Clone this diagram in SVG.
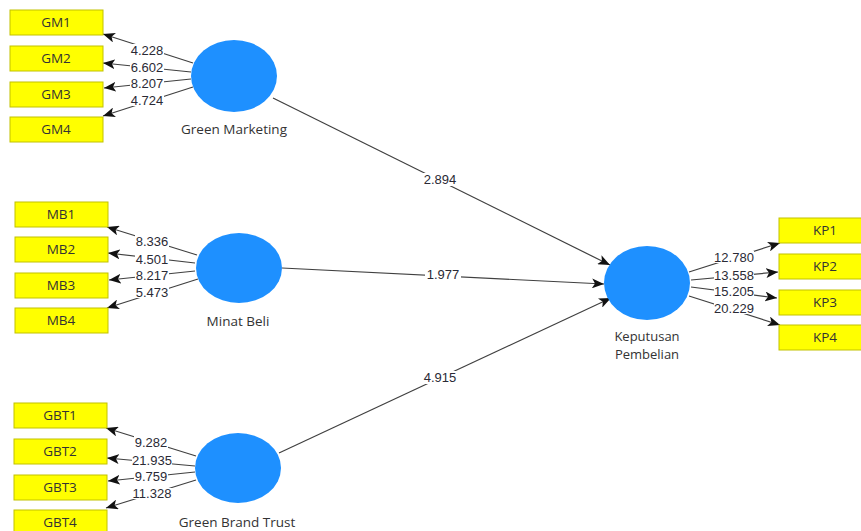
<svg xmlns="http://www.w3.org/2000/svg" width="861" height="531" viewBox="0 0 861 531">
<defs>
<marker id="ah" viewBox="0 0 12 10" refX="12" refY="5" markerWidth="12" markerHeight="10" markerUnits="userSpaceOnUse" orient="auto">
<path d="M0,0 L12,5 L0,10 L3,5 Z" fill="#111"/>
</marker>
<style>
.box{fill:#ffff00;stroke:#c2c200;stroke-width:1}
.bt{font-family:"Open Sans","Noto Sans",sans-serif;font-size:13.5px;fill:#333;text-anchor:middle}
.lv{fill:#1e90ff}
.lt{font-family:"Open Sans","Noto Sans",sans-serif;font-size:13.5px;fill:#333;text-anchor:middle}
.ln{stroke:#404040;stroke-width:1.2;fill:none;marker-end:url(#ah)}
.bg{fill:#fff}
.num{font-family:"Liberation Sans",Arial,sans-serif;font-size:13px;fill:#2a2a35;text-anchor:middle}
</style>
</defs>
<rect width="861" height="531" fill="#fff"/>

<g id="connectors">
<line class="ln" x1="193" y1="63" x2="103" y2="34"/>
<line class="ln" x1="191" y1="72" x2="103" y2="63"/>
<line class="ln" x1="191" y1="79" x2="104" y2="88"/>
<line class="ln" x1="193" y1="87" x2="103" y2="116"/>

<line class="ln" x1="197" y1="255" x2="107" y2="227"/>
<line class="ln" x1="195" y1="263" x2="108" y2="253"/>
<line class="ln" x1="195" y1="271" x2="109" y2="280"/>
<line class="ln" x1="198" y1="279" x2="107" y2="308"/>

<line class="ln" x1="196" y1="456" x2="106" y2="428"/>
<line class="ln" x1="195" y1="466" x2="107" y2="458"/>
<line class="ln" x1="195" y1="472" x2="108" y2="481"/>
<line class="ln" x1="196" y1="480" x2="106" y2="508"/>

<line class="ln" x1="689" y1="272" x2="780" y2="243"/>
<line class="ln" x1="691" y1="280" x2="778" y2="272"/>
<line class="ln" x1="691" y1="287" x2="777" y2="298"/>
<line class="ln" x1="689" y1="296" x2="780" y2="325"/>

<line class="ln" x1="273" y1="98" x2="610" y2="265"/>
<line class="ln" x1="282" y1="268" x2="604" y2="284"/>
<line class="ln" x1="279" y1="453" x2="611" y2="298"/>

<rect class="bg" x="130" y="44" width="34" height="12"/>
<rect class="bg" x="130" y="62" width="34" height="11"/>
<rect class="bg" x="130" y="78" width="34" height="11"/>
<rect class="bg" x="130" y="95" width="34" height="11"/>
<rect class="bg" x="135" y="235" width="34" height="12"/>
<rect class="bg" x="135" y="254" width="34" height="11"/>
<rect class="bg" x="135" y="270" width="34" height="11"/>
<rect class="bg" x="135" y="287" width="34" height="11"/>
<rect class="bg" x="134" y="436" width="34" height="12"/>
<rect class="bg" x="132" y="455" width="40" height="11"/>
<rect class="bg" x="134" y="471" width="34" height="11"/>
<rect class="bg" x="132" y="488" width="40" height="11"/>
<rect class="bg" x="714" y="251" width="40" height="12"/>
<rect class="bg" x="714" y="270" width="40" height="11"/>
<rect class="bg" x="714" y="286" width="40" height="11"/>
<rect class="bg" x="714" y="303" width="40" height="11"/>
<rect class="bg" x="422" y="173" width="36" height="13"/>
<rect class="bg" x="425" y="268" width="36" height="13"/>
<rect class="bg" x="422" y="371" width="36" height="13"/>

<text class="num" x="147" y="55">4.228</text>
<text class="num" x="147" y="72">6.602</text>
<text class="num" x="147" y="88">8.207</text>
<text class="num" x="147" y="105">4.724</text>

<text class="num" x="152" y="246">8.336</text>
<text class="num" x="152" y="264">4.501</text>
<text class="num" x="152" y="280">8.217</text>
<text class="num" x="152" y="297">5.473</text>

<text class="num" x="151" y="447">9.282</text>
<text class="num" x="152" y="465">21.935</text>
<text class="num" x="151" y="481">9.759</text>
<text class="num" x="152" y="498">11.328</text>

<text class="num" x="734" y="262">12.780</text>
<text class="num" x="734" y="280">13.558</text>
<text class="num" x="734" y="296">15.205</text>
<text class="num" x="734" y="313">20.229</text>

<text class="num" x="440" y="184">2.894</text>
<text class="num" x="443" y="279">1.977</text>
<text class="num" x="440" y="382">4.915</text>
</g>

<g id="GM1"><rect class="box" x="10" y="10" width="93" height="25"/><text class="bt" x="56" y="27">GM1</text></g>
<g id="GM2"><rect class="box" x="10" y="46" width="93" height="25"/><text class="bt" x="56" y="63">GM2</text></g>
<g id="GM3"><rect class="box" x="10" y="82" width="93" height="25"/><text class="bt" x="56" y="99">GM3</text></g>
<g id="GM4"><rect class="box" x="10" y="117" width="93" height="25"/><text class="bt" x="56" y="134">GM4</text></g>

<g id="MB1"><rect class="box" x="15" y="202" width="93" height="25"/><text class="bt" x="61" y="219">MB1</text></g>
<g id="MB2"><rect class="box" x="15" y="237" width="93" height="25"/><text class="bt" x="61" y="254">MB2</text></g>
<g id="MB3"><rect class="box" x="15" y="273" width="93" height="25"/><text class="bt" x="61" y="290">MB3</text></g>
<g id="MB4"><rect class="box" x="15" y="308" width="93" height="25"/><text class="bt" x="61" y="325">MB4</text></g>

<g id="GBT1"><rect class="box" x="14" y="403" width="93" height="25"/><text class="bt" x="60" y="420">GBT1</text></g>
<g id="GBT2"><rect class="box" x="14" y="439" width="93" height="25"/><text class="bt" x="60" y="456">GBT2</text></g>
<g id="GBT3"><rect class="box" x="14" y="475" width="93" height="25"/><text class="bt" x="60" y="492">GBT3</text></g>
<g id="GBT4"><rect class="box" x="14" y="510" width="93" height="25"/><text class="bt" x="60" y="527">GBT4</text></g>

<g id="KP1"><rect class="box" x="779" y="218" width="93" height="25"/><text class="bt" x="825" y="235">KP1</text></g>
<g id="KP2"><rect class="box" x="779" y="254" width="93" height="25"/><text class="bt" x="825" y="271">KP2</text></g>
<g id="KP3"><rect class="box" x="779" y="290" width="93" height="25"/><text class="bt" x="825" y="307">KP3</text></g>
<g id="KP4"><rect class="box" x="779" y="325" width="93" height="25"/><text class="bt" x="825" y="342">KP4</text></g>

<g id="GreenMarketing"><ellipse class="lv" cx="234" cy="76" rx="43" ry="36"/><text class="lt" x="234" y="134">Green Marketing</text></g>
<g id="MinatBeli"><ellipse class="lv" cx="239" cy="268" rx="43" ry="35"/><text class="lt" x="238" y="326">Minat Beli</text></g>
<g id="GreenBrandTrust"><ellipse class="lv" cx="238" cy="468" rx="43" ry="35"/><text class="lt" x="237" y="527">Green Brand Trust</text></g>
<g id="KeputusanPembelian"><ellipse class="lv" cx="647" cy="283" rx="43" ry="37"/><text class="lt" style="font-size:13px" x="647" y="341">Keputusan</text><text class="lt" style="font-size:13px" x="647" y="359">Pembelian</text></g>
</svg>
